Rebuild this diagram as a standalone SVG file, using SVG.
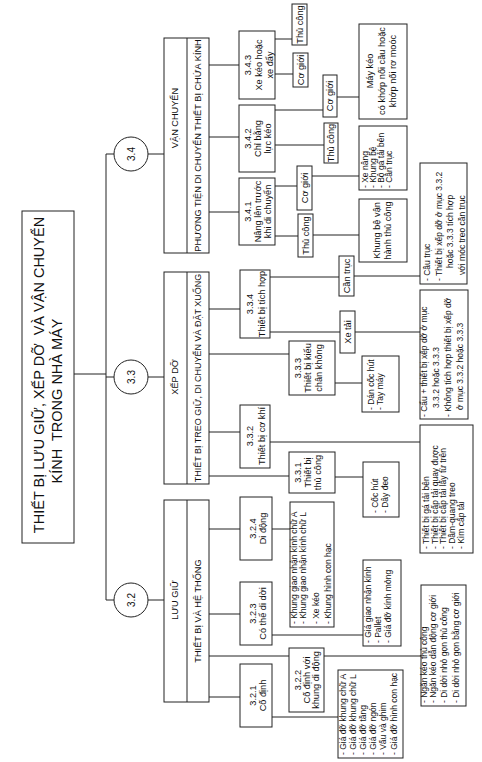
<svg xmlns="http://www.w3.org/2000/svg" width="482" height="762" viewBox="0 0 482 762">
<style>
.b{fill:#fff;stroke:#222;stroke-width:1}
.c path{fill:none;stroke:#222;stroke-width:1}
.d{stroke:#222;stroke-width:1}
text{font-family:"Liberation Sans",Arial,sans-serif;font-size:9.2px;fill:#111;dominant-baseline:central}
.m{text-anchor:middle}
.t{font-size:14.5px;white-space:pre}
.l{font-size:8.5px}
.k{font-size:10px}
</style>
<rect width="482" height="762" fill="#fff"/>
<g class="c" id="connectors">
<path d="M74 374H106M106 154V600M106 154H114M106 377H114M106 600H114M148 154H164M148 377H164M148 600H164"/>
<path d="M209 65H239M209 137H239M209 212H239M275 39H292M275 74H293M275 110H323M337 97H359M275 145H324M275 186H297M312 176H359M275 236H298M313 235H359"/>
<path d="M209 309H240M209 354H289M209 432H240M209 476H289M270 277H339M354 276H420M270 332H340M355 332H420M335 383H362M270 442H420M335 477H363"/>
<path d="M209 529H240M209 614H240M209 656H289M209 697H240M272 529H290M272 635H363M324 656H421M272 717H338"/>
</g>
<g id="root"><rect class="b" x="22" y="211" width="52" height="332"/>
<g transform="rotate(-90)"><text class="m t" x="-375" y="39">THIẾT BỊ LƯU GIỮ, XẾP DỠ  VÀ VẬN CHUYỂN</text><text class="m t" x="-401" y="57">KÍNH  TRONG NHÀ MÁY</text></g></g>
<g id="c34"><circle class="b" cx="131" cy="154" r="17"/><text class="m k" transform="rotate(-90)" x="-154" y="131">3.4</text></g>
<g id="c33"><circle class="b" cx="131" cy="377" r="17"/><text class="m k" transform="rotate(-90)" x="-377" y="131">3.3</text></g>
<g id="c32"><circle class="b" cx="131" cy="600" r="17"/><text class="m k" transform="rotate(-90)" x="-600" y="131">3.2</text></g>
<g id="s34"><rect class="b" x="164" y="38" width="45" height="215"/><line class="d" x1="187" y1="38" x2="187" y2="253"/>
<g transform="rotate(-90)"><text class="m" x="-118" y="175">VẬN CHUYỂN</text><text class="m" x="-145.5" y="198">PHƯƠNG TIỆN DI CHUYỂN THIẾT BỊ CHỨA KÍNH</text></g></g>
<g id="s33"><rect class="b" x="164" y="272" width="45" height="212"/><line class="d" x1="187" y1="272" x2="187" y2="484"/>
<g transform="rotate(-90)"><text class="m" x="-377" y="175">XẾP DỠ</text><text class="m" x="-378" y="198" style="font-size:9px">THIẾT BỊ TREO GIỮ, DI CHUYỂN VÀ ĐẶT XUỐNG</text></g></g>
<g id="s32"><rect class="b" x="164" y="500" width="45" height="202"/><line class="d" x1="187" y1="500" x2="187" y2="702"/>
<g transform="rotate(-90)"><text class="m" x="-600" y="175">LƯU GIỮ</text><text class="m" x="-611" y="198">THIẾT BỊ VÀ HỆ THỐNG</text></g></g>
<g id="n343"><rect class="b" x="239" y="31" width="36" height="68"/><g transform="rotate(-90)"><text class="m" x="-65" y="248">3.4.3</text><text class="m" x="-65" y="259">Xe kéo hoặc</text><text class="m" x="-65" y="270">xe đẩy</text></g></g>
<g id="n343a"><rect class="b" x="292" y="4" width="15" height="41"/><text class="m" transform="rotate(-90)" x="-24.5" y="299.5">Thủ công</text></g>
<g id="n343b"><rect class="b" x="293" y="53" width="15" height="34"/><text class="m" transform="rotate(-90)" x="-70" y="300.5">Cơ giới</text></g>
<g id="n342"><rect class="b" x="239" y="105" width="36" height="67"/><g transform="rotate(-90)"><text class="m" x="-138.5" y="248">3.4.2</text><text class="m" x="-138.5" y="258">Chỉ bằng</text><text class="m" x="-138.5" y="268">lực kéo</text></g></g>
<g id="n342a"><rect class="b" x="323" y="75" width="14" height="42"/><text class="m" transform="rotate(-90)" x="-96" y="330">Cơ giới</text></g>
<g id="n342b"><rect class="b" x="359" y="24" width="48" height="95"/><g transform="rotate(-90)"><text class="m" x="-71" y="370">Máy kéo</text><text class="m" x="-71" y="382">có khớp nối cầu hoặc</text><text class="m" x="-71" y="393">khớp nối rơ moóc</text></g></g>
<g id="n342c"><rect class="b" x="324" y="123" width="14" height="40"/><text class="m" transform="rotate(-90)" x="-143" y="331">Thủ công</text></g>
<g id="n341"><rect class="b" x="239" y="178" width="36" height="67"/><g transform="rotate(-90)"><text class="m" x="-211.5" y="247.5">3.4.1</text><text class="m" x="-211.5" y="257.5">Nâng lên trước</text><text class="m" x="-211.5" y="267.5">khi di chuyển</text></g></g>
<g id="n341a"><rect class="b" x="297" y="166" width="15" height="44"/><text class="m" transform="rotate(-90)" x="-188" y="304.5">Cơ giới</text></g>
<g id="n341b"><rect class="b" x="359" y="126" width="48" height="64"/><g transform="rotate(-90)"><text class="l" x="-188" y="364.5">- Xe nâng</text><text class="l" x="-188" y="372.5">- Khung bệ</text><text class="l" x="-188" y="381">- Bộ gá tải bên</text><text class="l" x="-188" y="389">- Cần trục</text></g></g>
<g id="n341c"><rect class="b" x="298" y="214" width="15" height="43"/><text class="m" transform="rotate(-90)" x="-235.5" y="305.5">Thủ công</text></g>
<g id="n341d"><rect class="b" x="359" y="199" width="48" height="63"/><g transform="rotate(-90)"><text class="m" x="-230.5" y="377">Khung bệ vận</text><text class="m" x="-230.5" y="388">hành thủ công</text></g></g>
<g id="n334"><rect class="b" x="240" y="270" width="30" height="68"/><g transform="rotate(-90)"><text class="m" x="-304" y="250">3.3.4</text><text class="m" x="-304" y="262">Thiết bị tích hợp</text></g></g>
<g id="n334a"><rect class="b" x="339" y="256" width="15" height="40"/><text class="m" transform="rotate(-90)" x="-276" y="346.5">Cần trục</text></g>
<g id="n334b"><rect class="b" x="420" y="163" width="47" height="121"/><g transform="rotate(-90)"><text class="l" x="-281" y="427">- Cầu trục</text><text class="l" x="-281" y="438.5">- Thiết bị xếp dỡ ở mục 3.3.2</text><text class="l" x="-268" y="450">hoặc 3.3.3 tích hợp</text><text class="l" x="-275" y="461.5">với móc treo cần trục</text></g></g>
<g id="n334c"><rect class="b" x="340" y="311" width="15" height="42"/><text class="m" transform="rotate(-90)" x="-332" y="347.5">Xe tải</text></g>
<g id="n334d"><rect class="b" x="420" y="290" width="48" height="129"/><g transform="rotate(-90)"><text class="l" x="-417" y="424">- Cẩu + thiết bị xếp dỡ ở mục</text><text class="l" x="-408" y="436">3.3.2 hoặc 3.3.3</text><text class="l" x="-417" y="447.5">- Không tích hợp thiết bị xếp dỡ</text><text class="l" x="-410" y="460">ở mục 3.3.2 hoặc 3.3.3</text></g></g>
<g id="n333"><rect class="b" x="289" y="341" width="46" height="54"/><g transform="rotate(-90)"><text class="m" x="-368" y="297.5">3.3.3</text><text class="m" x="-368" y="308">Thiết bị kiểu</text><text class="m" x="-368" y="318.5">chân không</text></g></g>
<g id="n333a"><rect class="b" x="362" y="356" width="37" height="56"/><g transform="rotate(-90)"><text class="l" x="-410" y="370.5">- Dán cốc hút</text><text class="l" x="-410" y="379.5">- Tay máy</text></g></g>
<g id="n332"><rect class="b" x="240" y="405" width="30" height="63"/><g transform="rotate(-90)"><text class="m" x="-436" y="250">3.3.2</text><text class="m" x="-436" y="262">Thiết bị cơ khí</text></g></g>
<g id="n332a"><rect class="b" x="420" y="425" width="53" height="128"/><g transform="rotate(-90)"><text class="l" x="-549" y="426">- Thiết bị gá tải bên</text><text class="l" x="-549" y="434.5">- Thiết bị cấp tải quay được</text><text class="l" x="-549" y="443">- Thiết bị cấp tải lấy từ trên</text><text class="l" x="-549" y="452">- Dầm-quang treo</text><text class="l" x="-549" y="461">- Kìm cấp tải</text></g></g>
<g id="n331"><rect class="b" x="289" y="452" width="46" height="41"/><g transform="rotate(-90)"><text class="m" x="-472.5" y="298">3.3.1</text><text class="m" x="-472.5" y="308">Thiết bị</text><text class="m" x="-472.5" y="318">thủ công</text></g></g>
<g id="n331a"><rect class="b" x="363" y="462" width="36" height="55"/><g transform="rotate(-90)"><text class="l" x="-513" y="375">- Cốc hút</text><text class="l" x="-513" y="385">- Dây đeo</text></g></g>
<g id="n324"><rect class="b" x="240" y="497" width="32" height="63"/><g transform="rotate(-90)"><text class="m" x="-528.5" y="253">3.2.4</text><text class="m" x="-528.5" y="263">Di động</text></g></g>
<g id="n324a"><rect class="b" x="290" y="502" width="44" height="125"/><g transform="rotate(-90)"><text class="l" x="-624" y="294">- Khung giao nhận kính chữ A</text><text class="l" x="-624" y="302.5">- Khung giao nhận kính chữ L</text><text class="l" x="-624" y="316">- Xe kéo</text><text class="l" x="-624" y="328">- Khung hình con hạc</text></g></g>
<g id="n323"><rect class="b" x="240" y="582" width="32" height="63"/><g transform="rotate(-90)"><text class="m" x="-613.5" y="253">3.2.3</text><text class="m" x="-613.5" y="263">Có thể di dời</text></g></g>
<g id="n323a"><rect class="b" x="363" y="560" width="38" height="86"/><g transform="rotate(-90)"><text class="l" x="-643" y="368">- Giá giao nhận kính</text><text class="l" x="-643" y="377.5">- Pallet</text><text class="l" x="-643" y="387.5">- Giá đỡ kính mỏng</text></g></g>
<g id="n322"><rect class="b" x="289" y="648" width="35" height="64"/><g transform="rotate(-90)"><text class="m" x="-680" y="298">3.2.2</text><text class="m" x="-680" y="307">Cố định với</text><text class="m" x="-680" y="316">khung di động</text></g></g>
<g id="n322a"><rect class="b" x="421" y="585" width="45" height="121"/><g transform="rotate(-90)"><text class="l" x="-703" y="424">- Ngăn kéo thủ công</text><text class="l" x="-703" y="433">- Ngăn kéo dẫn động cơ giới</text><text class="l" x="-703" y="444">- Di dời nhỏ gọn thủ công</text><text class="l" x="-703" y="456">- Di dời nhỏ gọn bằng cơ giới</text></g></g>
<g id="n321"><rect class="b" x="240" y="664" width="32" height="63"/><g transform="rotate(-90)"><text class="m" x="-695.5" y="253">3.2.1</text><text class="m" x="-695.5" y="263">Cố định</text></g></g>
<g id="n321a"><rect class="b" x="338" y="670" width="65" height="88"/><g transform="rotate(-90)"><text class="l" x="-755" y="342.5">- Giá đỡ khung chữ A</text><text class="l" x="-755" y="352.5">- Giá đỡ khung chữ L</text><text class="l" x="-755" y="362.5">- Giá đỡ tầng</text><text class="l" x="-755" y="373">- Giá đỡ ngón</text><text class="l" x="-755" y="383">- Vấu và ghim</text><text class="l" x="-755" y="394">- Giá đỡ hình con hạc</text></g></g>
</svg>
